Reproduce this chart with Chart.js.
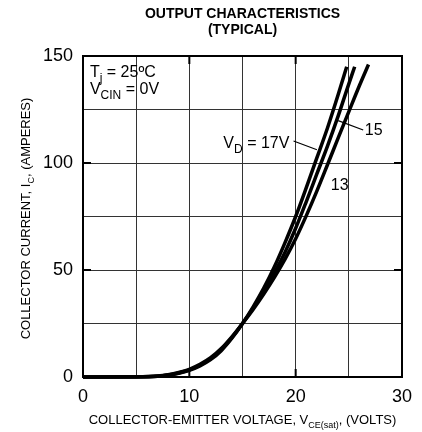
<!DOCTYPE html>
<html>
<head>
<meta charset="utf-8">
<script src="https://cdn.jsdelivr.net/npm/chart.js@4.4.0/dist/chart.umd.min.js"></script>
<style>
  html,body{margin:0;padding:0;background:#fff;}
  canvas{display:block;}
</style>
</head>
<body>
<canvas id="outChart" width="422" height="432"></canvas>
<script>
// Output characteristics (typical)
const vd17X = [0,5,7,8,9,10,11,12,13,14,15,16,17,18,19,20,21,22,23,24,24.8];
const vd17Y = [0,0.05,0.3,0.8,1.7,3.1,5.2,8.1,12.3,18.1,25,32.8,41.5,51.5,62.8,75,88.5,102.5,116.5,132,145];

const vd15X = [0,5,7,8,9,10,11,12,13,14,15,16,17,18,19,20,21,22,23,24,25,25.55];
const vd15Y = [0,0.07,0.35,0.9,1.9,3.3,5.5,8.5,12.8,18.4,25,32.2,40,48.6,58.3,69.5,82,95,108,122,137,145];

const vd13X = [0,5,7,8,9,10,11,12,13,14,15,16,17,18,19,20,21,22,23,24,25,26,26.85];
const vd13Y = [0,0.1,0.45,1.05,2.1,3.6,5.9,9,13.3,18.8,25,31.6,38.8,46.6,55.1,64.6,75.4,87,99.3,111.7,124,136.2,146];

const xTickLabels = [0,10,20,30];
const yTickLabels = [0,50,100,150];

const FONT = '"Liberation Sans", Arial, Helvetica, sans-serif';

function pts(xs, ys){ return xs.map((x,i) => ({x, y: ys[i]})); }

function curve(xs, ys){
  return {
    data: pts(xs, ys),
    borderColor:'#000',
    borderWidth:3.5,
    borderCapStyle:'butt',
    pointRadius:0,
    cubicInterpolationMode:'monotone',
    fill:false,
    clip:4
  };
}

// text with optional subscript pieces: [[text, isSub], ...]
function richWidth(ctx, parts, size){
  let w = 0;
  parts.forEach(([t,sub]) => {
    ctx.font = (sub ? Math.round(size*0.72) : size) + 'px ' + FONT;
    w += ctx.measureText(t).width;
  });
  return w;
}
function richText(ctx, parts, x, y, size){
  let cx = x;
  parts.forEach(([t,sub]) => {
    ctx.font = (sub ? Math.round(size*0.72) : size) + 'px ' + FONT;
    ctx.fillText(t, cx, sub ? y + size*0.3 : y);
    cx += ctx.measureText(t).width;
  });
}

const notes = {
  id:'notes',
  afterDraw(chart){
    const {ctx, chartArea:a, scales:{x, y}} = chart;
    ctx.save();
    ctx.fillStyle = '#000';
    ctx.strokeStyle = '#000';
    ctx.textBaseline = 'alphabetic';
    ctx.textAlign = 'left';

    // frame
    ctx.lineWidth = 2;
    ctx.strokeRect(a.left, a.top, a.right - a.left, a.bottom - a.top);

    // inward major ticks
    [10,20].forEach(v => {
      const px = x.getPixelForValue(v);
      ctx.beginPath();
      ctx.moveTo(px, a.bottom); ctx.lineTo(px, a.bottom - 8);
      ctx.moveTo(px, a.top); ctx.lineTo(px, a.top + 8);
      ctx.stroke();
    });
    [50,100].forEach(v => {
      const py = y.getPixelForValue(v);
      ctx.beginPath();
      ctx.moveTo(a.left, py); ctx.lineTo(a.left + 8, py);
      ctx.moveTo(a.right, py); ctx.lineTo(a.right - 8, py);
      ctx.stroke();
    });

    // title
    const cxm = (a.left + a.right) / 2;
    ctx.font = 'bold 14px ' + FONT;
    ctx.textAlign = 'center';
    ctx.fillText('OUTPUT CHARACTERISTICS', cxm, 18);
    ctx.fillText('(TYPICAL)', cxm, 34);
    ctx.textAlign = 'left';

    // x axis title
    const xt = [['COLLECTOR-EMITTER VOLTAGE, V',0],['CE(sat)',1],[', (VOLTS)',0]];
    const xw = richWidth(ctx, xt, 13);
    richText(ctx, xt, cxm - xw/2, 424, 13);

    // y axis title
    const yt = [['COLLECTOR CURRENT, I',0],['C',1],[', (AMPERES)',0]];
    const yw = richWidth(ctx, yt, 13);
    ctx.save();
    ctx.translate(30, (a.top + a.bottom) / 2 + 2);
    ctx.rotate(-Math.PI/2);
    richText(ctx, yt, -yw/2, 0, 13);
    ctx.restore();

    // conditions
    richText(ctx, [['T',0],['j',1],[' = 25ºC',0]], x.getPixelForValue(0.65), y.getPixelForValue(140.3), 16);
    richText(ctx, [['V',0],['CIN',1],[' = 0V',0]], x.getPixelForValue(0.65), y.getPixelForValue(132.2), 16);

    // curve labels + leaders
    richText(ctx, [['V',0],['D',1],[' = 17V',0]], x.getPixelForValue(13.2), y.getPixelForValue(107), 16);
    ctx.font = '16px ' + FONT;
    ctx.fillText('15', x.getPixelForValue(26.5), y.getPixelForValue(113.1));
    ctx.fillText('13', x.getPixelForValue(23.3), y.getPixelForValue(87.6));

    ctx.lineWidth = 1.2;
    ctx.beginPath();
    ctx.moveTo(x.getPixelForValue(19.8), y.getPixelForValue(110.3));
    ctx.lineTo(x.getPixelForValue(22.0), y.getPixelForValue(106.2));
    ctx.moveTo(x.getPixelForValue(24.0), y.getPixelForValue(119.8));
    ctx.lineTo(x.getPixelForValue(26.35), y.getPixelForValue(115.4));
    ctx.stroke();

    ctx.restore();
  }
};

new Chart(document.getElementById('outChart'), {
  type:'line',
  data:{
    datasets:[ curve(vd17X, vd17Y), curve(vd15X, vd15Y), curve(vd13X, vd13Y) ]
  },
  options:{
    responsive:false,
    animation:false,
    events:[],
    layout:{ padding:{ top:56, right:20, left:0, bottom:0 } },
    plugins:{ legend:{ display:false }, tooltip:{ enabled:false } },
    scales:{
      x:{
        type:'linear', min:0, max:30,
        afterFit(s){ s.height = 55; },
        ticks:{
          stepSize:5, color:'#000', padding:9, maxRotation:0,
          font:{ family:FONT, size:18 },
          callback: v => xTickLabels.includes(v) ? String(v) : ''
        },
        grid:{ color:'#333', lineWidth:1, drawTicks:false },
        border:{ display:true, color:'#000', width:2 }
      },
      y:{
        type:'linear', min:0, max:150,
        afterFit(s){ s.width = 83; },
        ticks:{
          stepSize:25, color:'#000', padding:10,
          font:{ family:FONT, size:18 },
          callback: v => yTickLabels.includes(v) ? String(v) : ''
        },
        grid:{ color:'#333', lineWidth:1, drawTicks:false },
        border:{ display:true, color:'#000', width:2 }
      }
    }
  },
  plugins:[notes]
});
</script>
</body>
</html>
